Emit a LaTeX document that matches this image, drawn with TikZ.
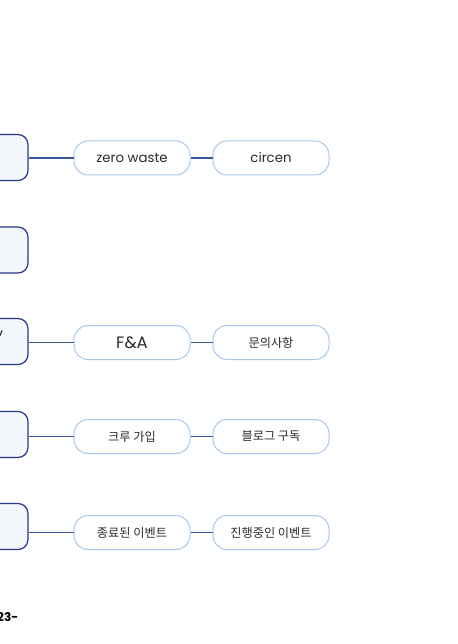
\documentclass[tikz,border=0pt]{standalone}
\usepackage{fontspec}
\setmainfont{Poppins}
\newfontfamily\kr{Noto Sans CJK KR}
\definecolor{navy}{HTML}{25398A}
\definecolor{boxfill}{HTML}{F3F6FB}
\definecolor{lightb}{HTML}{A8C8EC}
\definecolor{conn}{HTML}{3D56A2}
\definecolor{txt}{HTML}{2B2B2B}
\begin{document}
\begin{tikzpicture}[x=1pt,y=-1pt,
  parentbox/.style={draw=navy,fill=boxfill,line width=1.2pt,rounded corners=10pt,minimum width=80pt,minimum height=46pt,inner sep=0pt},
  childbox/.style={draw=lightb,fill=white,line width=1pt,rounded corners=14pt,minimum width=116pt,minimum height=34pt,inner sep=0pt,text=txt,font=\fontsize{13.3}{15}\selectfont},
  krtext/.style={font=\kr\fontsize{12.2}{14}\selectfont},
  link/.style={draw=conn,line width=1.5pt}]
\useasboundingbox (0,0) rectangle (457,644);
% parent boxes (mostly outside the frame)
\node[parentbox] (p1) at (-12,157.5) {};
\node[parentbox] (p2) at (-12,250) {};
\node[parentbox] (p3) at (-12,341.5) {};
\node[parentbox] (p4) at (-12,434.5) {};
\node[parentbox] (p5) at (-12,526.5) {};
\node[anchor=east,inner sep=0pt,font=\fontsize{12}{14}\selectfont] (p3t) at (3,336) {y};
% children
\node[childbox] (a1) at (132,158) {zero waste};
\node[childbox] (b1) at (271,158) {circen};
\node[childbox,font=\fontsize{16.5}{18}\selectfont] (a3) at (132,342.5) {F\&A};
\node[childbox,krtext] (b3) at (271,342.5) {문의사항};
\node[childbox,krtext] (a4) at (132,436.5) {크루 가입};
\node[childbox,krtext] (b4) at (271,436.5) {블로그 구독};
\node[childbox,krtext] (a5) at (132,532.5) {종료된 이벤트};
\node[childbox,krtext] (b5) at (271,532.5) {진행중인 이벤트};
% connectors
\draw[link] (p1.east |- a1.west) -- (a1.west);
\draw[link] (a1) -- (b1);
\draw[link] (p3.east |- a3.west) -- (a3.west);
\draw[link] (a3) -- (b3);
\draw[link] (p4.east |- a4.west) -- (a4.west);
\draw[link] (a4) -- (b4);
\draw[link] (p5.east |- a5.west) -- (a5.west);
\draw[link] (a5) -- (b5);
% cut-off year text
\node[anchor=east,inner sep=0pt,font=\bfseries\fontsize{12}{14}\selectfont] (yr) at (18.5,617) {2023-};
\end{tikzpicture}
\end{document}
